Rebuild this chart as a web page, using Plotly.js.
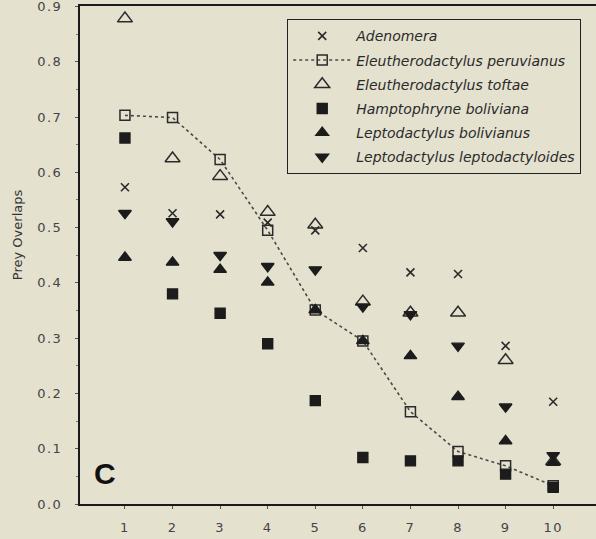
<!DOCTYPE html>
<html>
<head>
<meta charset="utf-8">
<script src="https://cdn.plot.ly/plotly-3.0.1.min.js"></script>
<style>
  html, body { margin: 0; padding: 0; background: #e4e1cf; }
  #chart { width: 596px; height: 539px; }
  /* slightly wider spacing on the axis numerals */
  #chart .xtick text, #chart .ytick text { letter-spacing: 1.5px; }
</style>
</head>
<body>
<div id="chart"></div>
<script>
// Rank of prey-overlap position (1 = most similar species pair)
const ranks = [1, 2, 3, 4, 5, 6, 7, 8, 9, 10];

// Prey overlap values per species
const adenomera        = [0.573, 0.526, 0.524, 0.509, 0.495, 0.463, 0.419, 0.416, 0.286, 0.185];
const eleuPeruvianus   = [0.703, 0.699, 0.623, 0.495, 0.351, 0.295, 0.167, 0.095, 0.069, 0.033];
const eleuToftae       = [0.878, 0.625, 0.593, 0.528, 0.505, 0.366, 0.346, 0.346, 0.260, 0.077];
const hamptoBoliviana  = [0.662, 0.380, 0.345, 0.290, 0.187, 0.084, 0.078, 0.078, 0.054, 0.030];
const leptoBolivianus  = [0.446, 0.437, 0.424, 0.401, 0.351, 0.295, 0.268, 0.194, 0.114, 0.075];
const leptoLeptodact   = [0.526, 0.511, 0.450, 0.430, 0.424, 0.357, 0.343, 0.286, 0.176, 0.088];

const speciesNames = [
  "Adenomera",
  "Eleutherodactylus peruvianus",
  "Eleutherodactylus toftae",
  "Hamptophryne boliviana",
  "Leptodactylus bolivianus",
  "Leptodactylus leptodactyloides"
];

const yTicks = [0, 0.1, 0.2, 0.3, 0.4, 0.5, 0.6, 0.7, 0.8, 0.9];

const ink = "#1c1c1c";
const sans = "DejaVu Sans, Verdana, sans-serif";

function pts(name, ys, symbol, size, extra) {
  return Object.assign({
    x: ranks, y: ys, name: name, type: "scatter", mode: "markers",
    legendgroup: name,
    marker: { symbol: symbol, size: size, color: ink, line: { color: ink, width: 1.4 } },
    hoverinfo: "x+y+name"
  }, extra || {});
}

const traces = [
  pts(speciesNames[0], adenomera, "x-thin-open", 8, {
    marker: { symbol: "x-thin-open", size: 8, color: "#2a2a2a", line: { color: "#2a2a2a", width: 1.6 } }
  }),
  pts(speciesNames[1], eleuPeruvianus, "square-open", 10, {
    mode: "lines+markers",
    line: { color: "#4a4a4a", width: 1.6, dash: "dot" },
    marker: { symbol: "square-open", size: 10, color: "#2a2a2a", line: { color: "#2a2a2a", width: 1.5 } }
  }),
  pts(speciesNames[2], eleuToftae, "triangle-up-open", 13, {
    marker: { symbol: "triangle-up-open", size: 13, color: "#2a2a2a", line: { color: "#2a2a2a", width: 1.5 } }
  }),
  pts(speciesNames[3], hamptoBoliviana, "square", 10),
  pts(speciesNames[4], leptoBolivianus, "triangle-up", 11),
  pts(speciesNames[5], leptoLeptodact, "triangle-down", 11)
];

const layout = {
  width: 596, height: 539,
  margin: { l: 80, r: 0, t: 6, b: 35 },
  paper_bgcolor: "#e4e1cf",
  plot_bgcolor: "#e4e1cf",
  font: { family: sans, color: "#3a3a3a", size: 13 },
  showlegend: true,
  legend: {
    x: 0.401, y: 0.974, xanchor: "left", yanchor: "top",
    bgcolor: "rgba(0,0,0,0)",
    bordercolor: "#222", borderwidth: 1.3,
    font: { family: sans, size: 14, color: "#2a2a2a", style: "italic" },
    itemwidth: 58,
    traceorder: "grouped",
    tracegroupgap: 3
  },
  xaxis: {
    range: [0.055, 10.9],
    tickvals: ranks,
    ticktext: ranks.map(String),
    showgrid: false, zeroline: false,
    showline: true, linecolor: "#1a1a1a", linewidth: 2,
    mirror: true,
    ticks: "outside", ticklen: 3, tickwidth: 1, tickcolor: "#555",
    tickfont: { family: sans, size: 13, color: "#444" },
    ticklabelstandoff: 7
  },
  yaxis: {
    range: [0, 0.9008],
    tickvals: yTicks,
    ticktext: yTicks.map(v => v.toFixed(1)),
    ticklabeloverflow: "allow",
    showgrid: false, zeroline: false,
    showline: true, linecolor: "#1a1a1a", linewidth: 2,
    ticks: "outside", ticklen: 3, tickwidth: 1, tickcolor: "#555",
    minor: { dtick: 0.05, ticks: "outside", ticklen: 2, tickcolor: "#777" },
    tickfont: { family: sans, size: 13, color: "#444" },
    ticklabelstandoff: 10
  },
  annotations: [
    {
      text: "Prey Overlaps", textangle: -90,
      xref: "paper", yref: "paper",
      x: -0.122, y: 0.54, xanchor: "center", yanchor: "middle",
      showarrow: false,
      font: { family: sans, size: 13, color: "#333" }
    },
    {
      text: "<b>C</b>",
      xref: "paper", yref: "paper",
      x: 0.048, y: 0.062, xanchor: "center", yanchor: "middle",
      showarrow: false,
      font: { family: "Liberation Sans, Arial, sans-serif", size: 30, color: "#111" }
    }
  ]
};

Plotly.newPlot("chart", traces, layout, { displayModeBar: false, staticPlot: true });
</script>
</body>
</html>
